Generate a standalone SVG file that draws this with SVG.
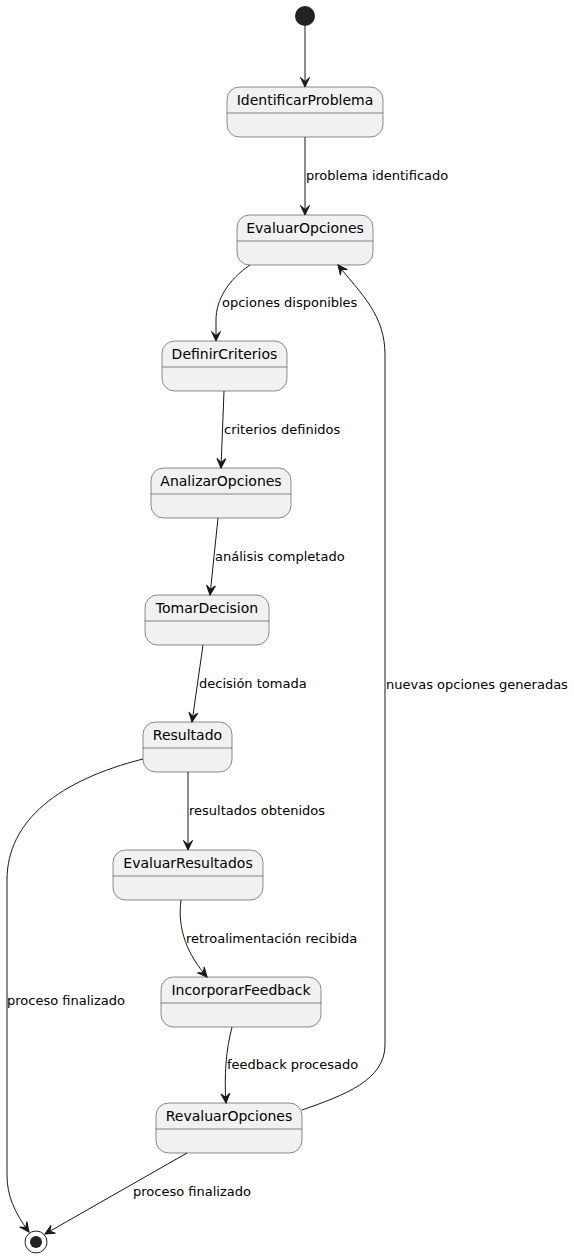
<svg xmlns="http://www.w3.org/2000/svg" width="574" height="1257" viewBox="0 0 574 1257">
<style>
.st rect{fill:#F1F1F1;stroke:#181818;stroke-width:0.5}
.st line{stroke:#181818;stroke-width:0.5}
.st text{font-family:"DejaVu Sans",sans-serif;font-size:14px;fill:#000;text-anchor:middle}
.ed path{fill:none;stroke:#181818;stroke-width:1;marker-end:url(#ah)}
.lb{font-family:"DejaVu Sans",sans-serif;font-size:13px;fill:#000}
</style>
<defs>
<marker id="ah" markerUnits="userSpaceOnUse" markerWidth="12" markerHeight="12" viewBox="0 0 12 12" refX="11" refY="6" orient="auto">
<path d="M11,6 L1.5,1.5 L5.5,6 L1.5,10.5 Z" fill="#181818" stroke="#181818" stroke-width="1"/>
</marker>
</defs>
<rect width="574" height="1257" fill="#FFFFFF"/>
<g id="start"><circle cx="305" cy="16" r="10" fill="#222222"/></g>
<g id="end"><circle cx="36" cy="1242" r="11" fill="none" stroke="#222222" stroke-width="1"/><circle cx="36" cy="1242" r="6" fill="#222222"/></g>
<g id="IdentificarProblema" class="st"><rect x="227" y="87" width="156" height="50" rx="12.5"/><line x1="227" y1="113" x2="383" y2="113"/><text x="305" y="105">IdentificarProblema</text></g>
<g id="EvaluarOpciones" class="st"><rect x="237" y="215" width="136" height="50" rx="12.5"/><line x1="237" y1="241" x2="373" y2="241"/><text x="305" y="233">EvaluarOpciones</text></g>
<g id="DefinirCriterios" class="st"><rect x="162" y="341" width="125" height="50" rx="12.5"/><line x1="162" y1="367" x2="287" y2="367"/><text x="224.5" y="359">DefinirCriterios</text></g>
<g id="AnalizarOpciones" class="st"><rect x="151" y="468" width="140" height="50" rx="12.5"/><line x1="151" y1="494" x2="291" y2="494"/><text x="221" y="486">AnalizarOpciones</text></g>
<g id="TomarDecision" class="st"><rect x="145" y="595" width="124" height="50" rx="12.5"/><line x1="145" y1="621" x2="269" y2="621"/><text x="207" y="613">TomarDecision</text></g>
<g id="Resultado" class="st"><rect x="143" y="722" width="89" height="50" rx="12.5"/><line x1="143" y1="748" x2="232" y2="748"/><text x="187.5" y="740">Resultado</text></g>
<g id="EvaluarResultados" class="st"><rect x="113" y="850" width="150" height="50" rx="12.5"/><line x1="113" y1="876" x2="263" y2="876"/><text x="188" y="868">EvaluarResultados</text></g>
<g id="IncorporarFeedback" class="st"><rect x="161" y="977" width="160" height="50" rx="12.5"/><line x1="161" y1="1003" x2="321" y2="1003"/><text x="241" y="995">IncorporarFeedback</text></g>
<g id="RevaluarOpciones" class="st"><rect x="156" y="1103" width="146" height="50" rx="12.5"/><line x1="156" y1="1129" x2="302" y2="1129"/><text x="229" y="1121">RevaluarOpciones</text></g>
<g id="connectors" class="ed">
<path d="M305,26 L305,87"/>
<path d="M305,137 L305,215"/>
<path d="M250,265 C228,280 216,300 216,320 L216,341"/>
<path d="M224,391 L221,468"/>
<path d="M218,518 L210,595"/>
<path d="M203,645 L192,722"/>
<path d="M188,772 L188,850"/>
<path d="M181,900 C177,930 188,955 207,977"/>
<path d="M232,1027 C226,1050 224,1075 226,1103"/>
<path d="M302,1110 C345,1095 385,1080 385,1045 L385,355 C385,315 362,295 338,265"/>
<path d="M143,759 C60,780 7,820 7,880 L7,1175 C7,1195 14,1212 29,1232"/>
<path d="M187,1153 L45,1234"/>
</g>
<g id="labels">
<text class="lb" x="306" y="180">problema identificado</text>
<text class="lb" x="222" y="307">opciones disponibles</text>
<text class="lb" x="224" y="434">criterios definidos</text>
<text class="lb" x="215" y="561">análisis completado</text>
<text class="lb" x="199" y="688">decisión tomada</text>
<text class="lb" x="189" y="815">resultados obtenidos</text>
<text class="lb" x="186" y="943">retroalimentación recibida</text>
<text class="lb" x="227" y="1069">feedback procesado</text>
<text class="lb" x="386" y="689">nuevas opciones generadas</text>
<text class="lb" x="7" y="1005">proceso finalizado</text>
<text class="lb" x="133" y="1196">proceso finalizado</text>
</g>
</svg>
